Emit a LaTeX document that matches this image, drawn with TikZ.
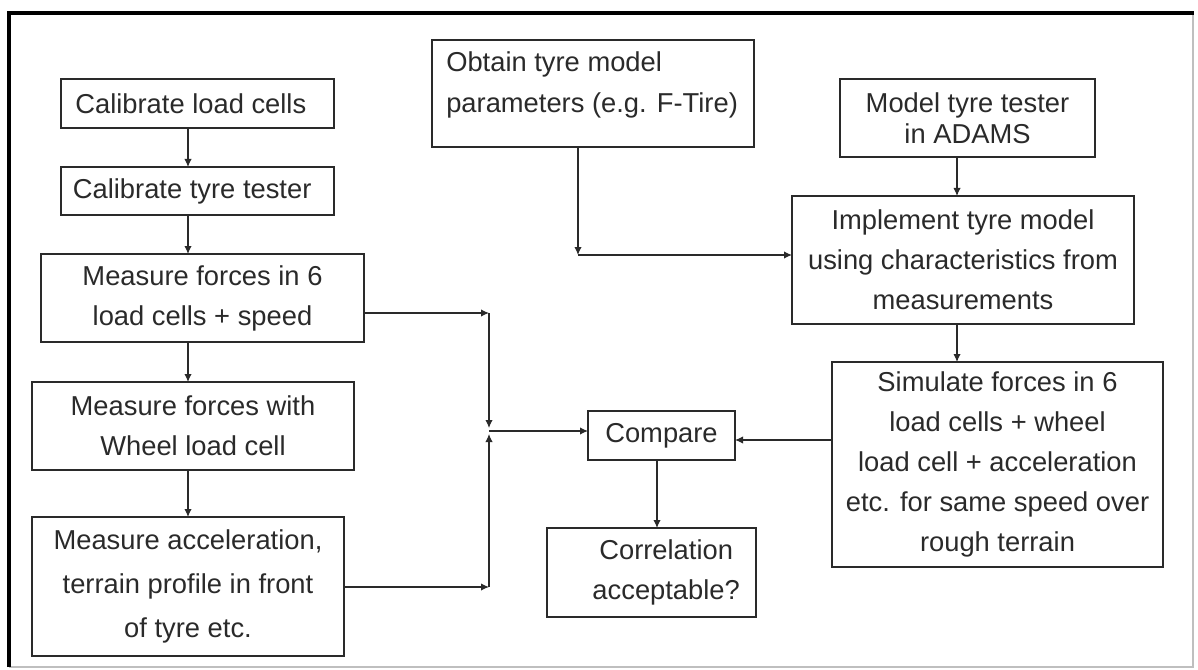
\documentclass[tikz,border=0pt]{standalone}
\usepackage{fontspec}
\setmainfont{Liberation Sans}
\usetikzlibrary{arrows.meta}
\definecolor{ink}{HTML}{2A2A2A}
\tikzset{
  box/.style={draw=ink, line width=1.1pt, inner sep=0pt, outer sep=0pt, align=center, text=ink,
    font=\fontsize{20.5}{30}\selectfont},
  arr/.style={draw=ink, line width=0.8pt, -{Latex[length=6pt,width=5.5pt]}}
}
\begin{document}
\begin{tikzpicture}[x=0.75pt,y=-0.75pt]
\useasboundingbox (0,0) rectangle (1198,670);
% frame
\draw[gray!50, line width=0.8pt] (1193,13) -- (1193,667) -- (9,667);
\draw[black, line width=2.6pt] (9,667) -- (9,13) -- (1194,13);

% left column
\node[box, minimum width=204.75pt, minimum height=36.75pt] (cal1) at (197.5,103.5) {\hspace*{-10pt}Calibrate load cells};
\node[box, minimum width=204.75pt, minimum height=36pt] (cal2) at (197.5,191) {\hspace*{-8pt}Calibrate tyre tester};
\node[box, minimum width=242.25pt, minimum height=66pt] (mf6) at (202.5,298) {Measure forces in 6\\load cells + speed};
\node[box, minimum width=241.5pt, minimum height=66pt] (mfw) at (193,426) {Measure forces with\\Wheel load cell};
\node[box, minimum width=234pt, minimum height=104.25pt, font=\fontsize{20.5}{33}\selectfont] (macc) at (188,586.5) {Measure acceleration,\\terrain profile in front\\of tyre etc.};

% middle
\node[box, minimum width=241.5pt, minimum height=80.25pt] (obt) at (593,93.5) {};
\node[anchor=north west, align=left, inner sep=0pt, text=ink, font=\fontsize{20.5}{31}\selectfont] (obttxt) at (446,51) {Obtain tyre model\\parameters (e.g. F-Tire)};
\node[box, minimum width=110.25pt, minimum height=36.75pt] (cmp) at (661.5,435.5) {Compare};
\node[box, minimum width=156.75pt, minimum height=66.75pt] (corr) at (651.5,572.5) {\hspace*{22pt}Correlation\\\hspace*{22pt}acceptable?};

% right
\node[box, minimum width=191.25pt, minimum height=58.5pt, font=\fontsize{20.5}{23.5}\selectfont] (model) at (967.5,118) {Model tyre tester\\in ADAMS};
\node[box, minimum width=256.5pt, minimum height=96pt] (impl) at (963,260) {Implement tyre model\\using characteristics from\\measurements};
\node[box, minimum width=248.25pt, minimum height=153.75pt] (sim) at (997.5,464.5) {Simulate forces in 6\\load cells + wheel\\load cell + acceleration\\etc. for same speed over\\rough terrain};

% helper coordinates
\coordinate (colL) at (188,0);
\coordinate (colR) at (957,0);
\coordinate (colC) at (657,0);
\coordinate (rowS) at (0,440);
\coordinate (jt) at (489,313);
\coordinate (jb) at (489,587);
\coordinate (jm1) at (489,428);
\coordinate (jm2) at (489,434);
\coordinate (jc) at (489,431);
\coordinate (ob) at (578,255);

% connectors
\draw[arr] (cal1.south -| colL) -- (cal2.north -| colL);
\draw[arr] (cal2.south -| colL) -- (mf6.north -| colL);
\draw[arr] (mf6.south -| colL) -- (mfw.north -| colL);
\draw[arr] (mfw.south -| colL) -- (macc.north -| colL);

\draw[arr] (mf6.east |- jt) -- (jt);
\draw[arr] (jt) -- (jm1);
\draw[arr] (macc.east |- jb) -- (jb);
\draw[arr] (jb) -- (jm2);
\draw[arr] (jc) -- (cmp.west |- jc);

\draw[arr] (obt.south -| ob) -- (ob);
\draw[arr] (ob) -- (impl.west |- ob);

\draw[arr] (model.south -| colR) -- (impl.north -| colR);
\draw[arr] (impl.south -| colR) -- (sim.north -| colR);
\draw[arr] (sim.west |- rowS) -- (cmp.east |- rowS);
\draw[arr] (cmp.south -| colC) -- (corr.north -| colC);
\end{tikzpicture}
\end{document}
